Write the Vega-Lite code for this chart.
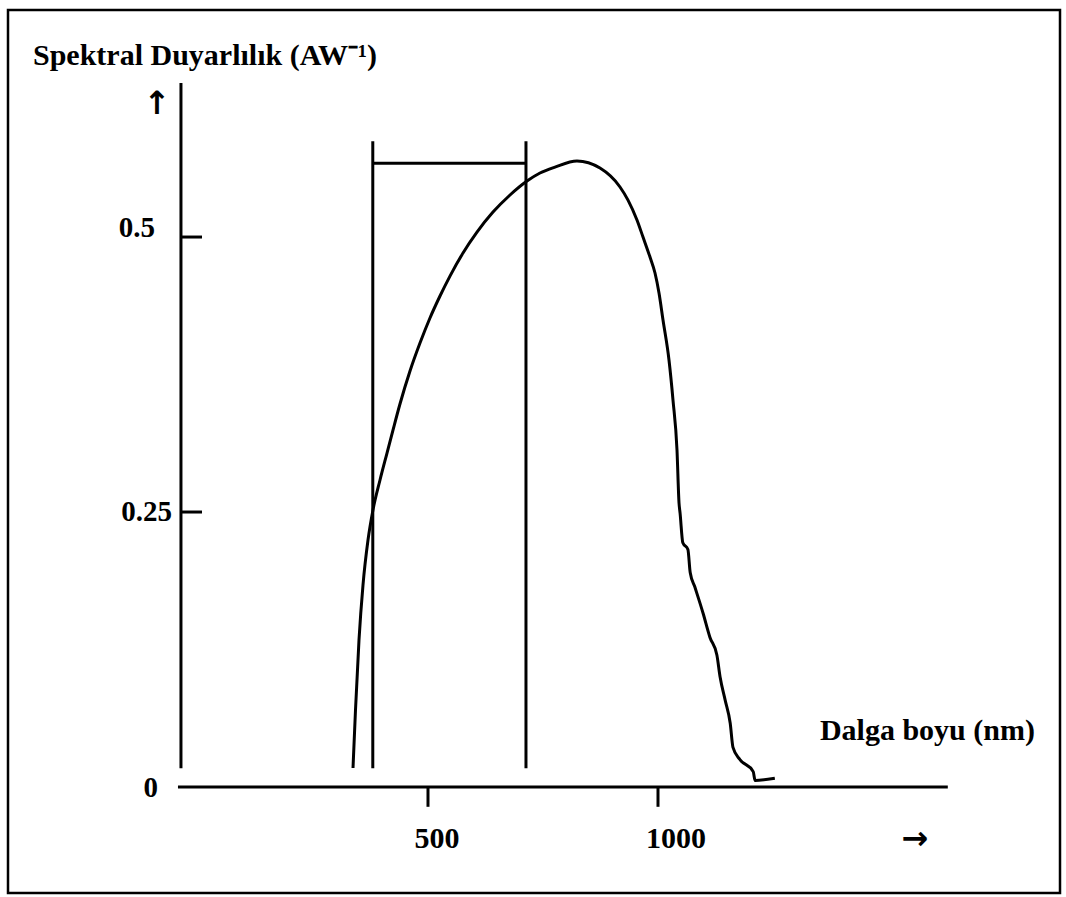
{
  "$schema": "https://vega.github.io/schema/vega-lite/v6.json",
  "width": 1052,
  "height": 883,
  "autosize": {"type": "none"},
  "padding": {"left": 8, "top": 10, "right": 6, "bottom": 4},
  "background": "white",
  "config": {"view": {"stroke": "black", "strokeWidth": 2.5}},
  "datasets": {
    "curve": [
      {"lam": 337.0, "val": 0.0173},
      {"lam": 342.4, "val": 0.07},
      {"lam": 350.0, "val": 0.1336},
      {"lam": 358.7, "val": 0.1836},
      {"lam": 369.6, "val": 0.2245},
      {"lam": 380.4, "val": 0.2518},
      {"lam": 395.7, "val": 0.2791},
      {"lam": 410.9, "val": 0.3036},
      {"lam": 423.9, "val": 0.3245},
      {"lam": 439.1, "val": 0.3482},
      {"lam": 460.9, "val": 0.3782},
      {"lam": 482.6, "val": 0.4036},
      {"lam": 504.3, "val": 0.4264},
      {"lam": 526.1, "val": 0.4464},
      {"lam": 547.8, "val": 0.4645},
      {"lam": 576.1, "val": 0.4855},
      {"lam": 606.5, "val": 0.5045},
      {"lam": 641.3, "val": 0.5227},
      {"lam": 678.3, "val": 0.5382},
      {"lam": 715.2, "val": 0.5509},
      {"lam": 743.5, "val": 0.5582},
      {"lam": 776.1, "val": 0.5636},
      {"lam": 823.9, "val": 0.5691},
      {"lam": 873.9, "val": 0.5627},
      {"lam": 917.4, "val": 0.5455},
      {"lam": 934.8, "val": 0.5336},
      {"lam": 954.3, "val": 0.5155},
      {"lam": 967.4, "val": 0.5},
      {"lam": 982.6, "val": 0.4818},
      {"lam": 993.5, "val": 0.4673},
      {"lam": 1002.2, "val": 0.4491},
      {"lam": 1010.9, "val": 0.4245},
      {"lam": 1023.9, "val": 0.3882},
      {"lam": 1032.6, "val": 0.3518},
      {"lam": 1041.3, "val": 0.3064},
      {"lam": 1045.7, "val": 0.2582},
      {"lam": 1048, "val": 0.249},
      {"lam": 1054, "val": 0.222},
      {"lam": 1065, "val": 0.216},
      {"lam": 1070, "val": 0.195},
      {"lam": 1080, "val": 0.182},
      {"lam": 1098, "val": 0.158},
      {"lam": 1113, "val": 0.136},
      {"lam": 1128, "val": 0.12},
      {"lam": 1135, "val": 0.1},
      {"lam": 1146, "val": 0.079},
      {"lam": 1157, "val": 0.058},
      {"lam": 1163, "val": 0.036},
      {"lam": 1178, "val": 0.025},
      {"lam": 1207, "val": 0.014},
      {"lam": 1211, "val": 0.006},
      {"lam": 1254, "val": 0.008}
    ],
    "rules": [
      {"name": "y axis", "x1": -37, "x2": -37, "y1": 0.017, "y2": 0.64},
      {"name": "x axis", "x1": -43.5, "x2": 1630, "y1": 0, "y2": 0},
      {"name": "tick 500", "x1": 500, "x2": 500, "y1": 0, "y2": -0.018},
      {"name": "tick 1000", "x1": 1000, "x2": 1000, "y1": 0, "y2": -0.018},
      {"name": "tick 0.25", "x1": -37, "x2": 8.7, "y1": 0.25, "y2": 0.25},
      {"name": "tick 0.5", "x1": -37, "x2": 8.7, "y1": 0.5, "y2": 0.5},
      {"name": "band left", "x1": 380, "x2": 380, "y1": 0.017, "y2": 0.587},
      {"name": "band right", "x1": 713, "x2": 713, "y1": 0.017, "y2": 0.587},
      {"name": "band top", "x1": 380, "x2": 713, "y1": 0.567, "y2": 0.567}
    ],
    "textLeft": [
      {"lam": -358.7, "val": 0.656, "label": "Spektral Duyarlılık (AW⁻¹)"},
      {"lam": 1352, "val": 0.0427, "label": "Dalga boyu (nm)"}
    ],
    "textRight": [
      {"lam": -93.5, "val": 0.5, "label": "0.5"},
      {"lam": -56.5, "val": 0.2418, "label": "0.25"},
      {"lam": -87, "val": -0.009, "label": "0"}
    ],
    "textCenter": [
      {"lam": 519.6, "val": -0.0555, "label": "500"},
      {"lam": 1039, "val": -0.0555, "label": "1000"}
    ],
    "arrows": [
      {"lam": 1558.7, "val": -0.0565, "label": "→"},
      {"lam": -89, "val": 0.612, "label": "↑"}
    ]
  },
  "layer": [
    {
      "data": {"name": "rules"},
      "mark": {"type": "rule", "color": "black", "strokeWidth": 3},
      "encoding": {
        "x": {"field": "x1", "type": "quantitative", "scale": {"domain": [-413.0, 1873.9], "nice": false, "zero": false}, "axis": null},
        "x2": {"field": "x2"},
        "y": {"field": "y1", "type": "quantitative", "scale": {"domain": [-0.09636, 0.7064], "nice": false, "zero": false}, "axis": null},
        "y2": {"field": "y2"}
      }
    },
    {
      "data": {"name": "curve"},
      "mark": {"type": "line", "color": "black", "strokeWidth": 3, "interpolate": "monotone"},
      "encoding": {
        "x": {"field": "lam", "type": "quantitative"},
        "y": {"field": "val", "type": "quantitative"}
      }
    },
    {
      "data": {"name": "textLeft"},
      "mark": {"type": "text", "align": "left", "baseline": "alphabetic", "font": "Liberation Serif", "fontWeight": "bold", "fontSize": 30, "color": "black"},
      "encoding": {
        "x": {"field": "lam", "type": "quantitative"},
        "y": {"field": "val", "type": "quantitative"},
        "text": {"field": "label"}
      }
    },
    {
      "data": {"name": "textRight"},
      "mark": {"type": "text", "align": "right", "baseline": "alphabetic", "font": "Liberation Serif", "fontWeight": "bold", "fontSize": 29, "color": "black"},
      "encoding": {
        "x": {"field": "lam", "type": "quantitative"},
        "y": {"field": "val", "type": "quantitative"},
        "text": {"field": "label"}
      }
    },
    {
      "data": {"name": "textCenter"},
      "mark": {"type": "text", "align": "center", "baseline": "alphabetic", "font": "Liberation Serif", "fontWeight": "bold", "fontSize": 30, "color": "black"},
      "encoding": {
        "x": {"field": "lam", "type": "quantitative"},
        "y": {"field": "val", "type": "quantitative"},
        "text": {"field": "label"}
      }
    },
    {
      "data": {"name": "arrows"},
      "mark": {"type": "text", "align": "center", "baseline": "alphabetic", "font": "DejaVu Sans", "fontWeight": "bold", "fontSize": 32, "color": "black"},
      "encoding": {
        "x": {"field": "lam", "type": "quantitative"},
        "y": {"field": "val", "type": "quantitative"},
        "text": {"field": "label"}
      }
    }
  ]
}
